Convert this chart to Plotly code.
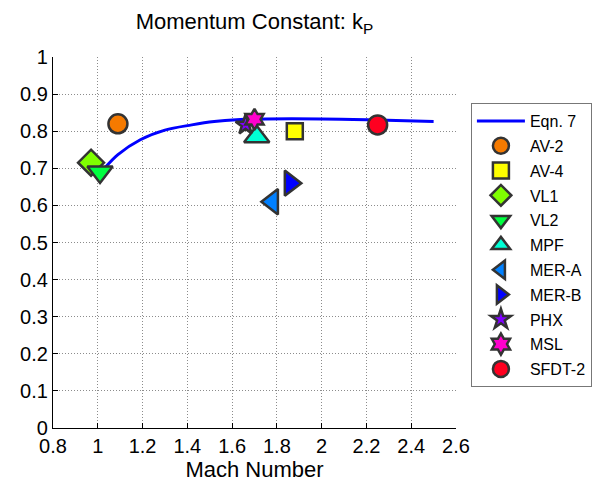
import plotly.graph_objects as go

# Eqn. 7 curve
eqn_mach = [1.03, 1.09, 1.19, 1.30, 1.42, 1.52, 1.62, 1.75, 2.0, 2.25, 2.5]
eqn_kp = [0.700, 0.737, 0.777, 0.803, 0.817, 0.826, 0.831, 0.833, 0.833, 0.830, 0.826]

names = ["AV-2", "AV-4", "VL1", "VL2", "MPF", "MER-A", "MER-B", "PHX", "MSL", "SFDT-2"]
mach = [1.09, 1.88, 0.97, 1.01, 1.71, 1.78, 1.86, 1.66, 1.70, 2.25]
kp = [0.82, 0.80, 0.715, 0.69, 0.785, 0.61, 0.66, 0.817, 0.832, 0.817]
symbols = ["circle", "square", "diamond", "triangle-down", "triangle-up",
           "triangle-left", "triangle-right", "star", "hexagram", "circle"]
colors = ["#F57A00", "#FFFF00", "#7FFF00", "#00FF40", "#00FFD5",
          "#0080FF", "#0000FF", "#8000FF", "#FF00CC", "#FF0020"]
sizes = [19, 16, 20, 22, 22, 22, 22, 15, 16, 19]

fig = go.Figure()
fig.add_trace(go.Scatter(x=eqn_mach, y=eqn_kp, mode="lines", name="Eqn. 7",
                         line=dict(color="#0000FF", width=3, shape="spline"),
                         legendgroup="g0"))
for i, n in enumerate(names):
    fig.add_trace(go.Scatter(x=[mach[i]], y=[kp[i]], mode="markers", name=n,
                             legendgroup=f"g{i+1}",
                             marker=dict(symbol=symbols[i], color=colors[i], size=sizes[i],
                                         line=dict(color="#333333", width=2.5))))

font = "Liberation Sans, Arial, Helvetica, sans-serif"
grid = dict(showgrid=True, gridcolor="#8c8c8c", griddash="1px,2px", gridwidth=1,
            showline=True, linecolor="black", linewidth=1.2,
            ticks="inside", ticklen=5, tickcolor="black",
            zeroline=False, mirror=False, tickfont=dict(size=20))
fig.update_layout(
    width=596, height=487,
    margin=dict(l=43, r=146, t=49, b=67),
    paper_bgcolor="white", plot_bgcolor="white",
    font=dict(family=font, size=20, color="black"),
    title=dict(text="Momentum Constant: k<sub>P</sub>", x=0.5, xref="paper",
               xanchor="center", y=0.972, yref="container", yanchor="middle",
               font=dict(family=font, size=22, color="black")),
    showlegend=True,
    legend=dict(x=1.037, y=0.876, xanchor="left", yanchor="top",
                bordercolor="#777777", borderwidth=1, bgcolor="white",
                font=dict(family=font, size=16, color="black"),
                tracegroupgap=1, itemsizing="trace", itemwidth=48,
                entrywidth=76, entrywidthmode="pixels"),
)
fig.update_xaxes(range=[0.8, 2.6], tickvals=[0.8, 1, 1.2, 1.4, 1.6, 1.8, 2, 2.2, 2.4, 2.6],
                 ticktext=["0.8", "1", "1.2", "1.4", "1.6", "1.8", "2", "2.2", "2.4", "2.6"],
                 title=dict(text="Mach Number", standoff=4, font=dict(size=22)), **grid)
fig.update_yaxes(range=[0, 1], tickvals=[0, 0.1, 0.2, 0.3, 0.4, 0.5, 0.6, 0.7, 0.8, 0.9, 1],
                 ticktext=["0", "0.1", "0.2", "0.3", "0.4", "0.5", "0.6", "0.7", "0.8", "0.9", "1"],
                 **grid)

fig.write_html("out.html")
